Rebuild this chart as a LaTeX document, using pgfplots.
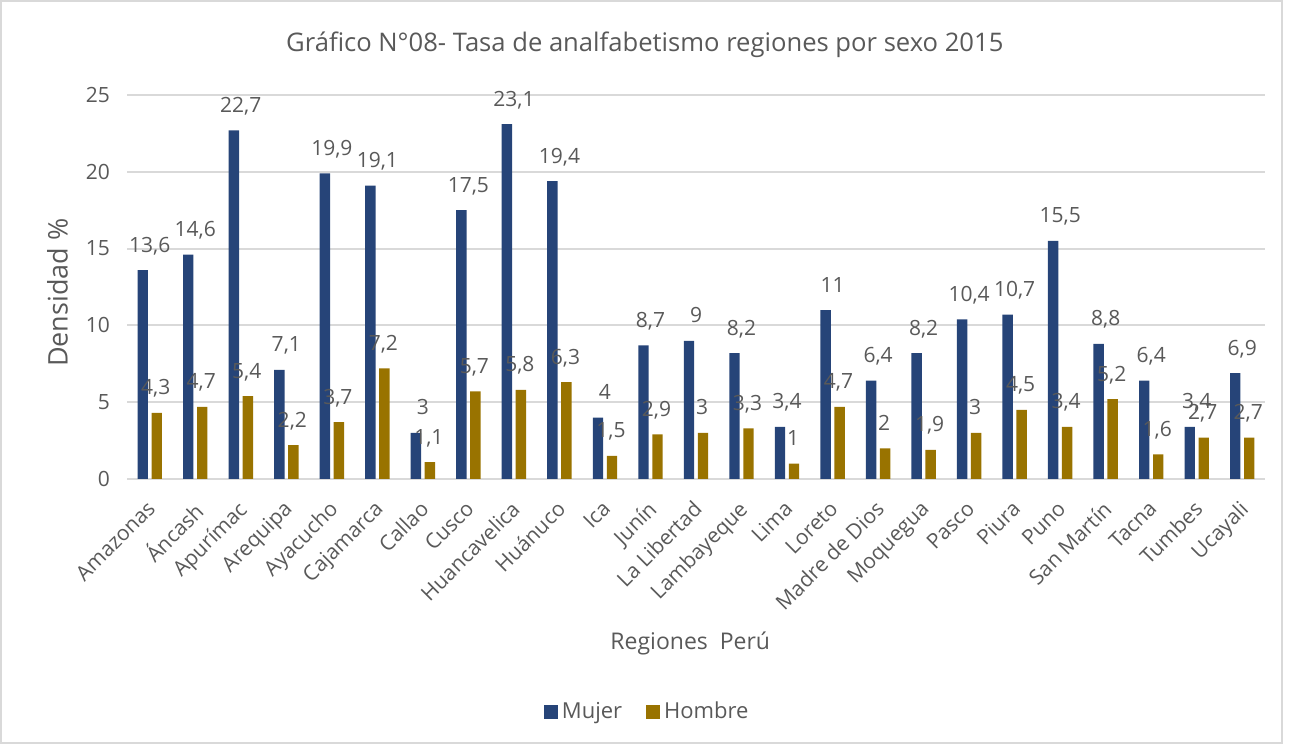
\documentclass[border=0pt]{standalone}
\usepackage{pgfplots}
\pgfplotsset{compat=1.18}
\usepackage{fontspec}
\setmainfont{Open Sans}
\definecolor{mujer}{HTML}{264478}
\definecolor{hombre}{HTML}{997300}
\definecolor{txt}{HTML}{595959}
\definecolor{gridc}{HTML}{D9D9D9}
\begin{document}
\begin{tikzpicture}
\useasboundingbox (0,0) rectangle (645pt,372pt);
\draw[gridc, line width=0.8pt] (0.5pt,0.5pt) rectangle (641pt,371.5pt);
\begin{axis}[
  at={(63.5pt,132.5pt)}, anchor=south west,
  scale only axis, width=569pt, height=192pt,
  xmin=-0.5, xmax=24.5, ymin=0, ymax=25,
  ytick={0,5,...,25},
  xtick={0,...,24},
  xticklabels={Amazonas,Áncash,Apurímac,Arequipa,Ayacucho,Cajamarca,Callao,Cusco,Huancavelica,Huánuco,Ica,Junín,La Libertad,Lambayeque,Lima,Loreto,Madre de Dios,Moquegua,Pasco,Piura,Puno,San Martín,Tacna,Tumbes,Ucayali},
  x tick label style={xshift=-2pt, yshift=-10pt, rotate=45, anchor=north east, inner sep=0pt, font=\fontsize{10.5}{12}\selectfont, text=txt},
  y tick label style={font=\fontsize{10.5}{12}\selectfont, text=txt, xshift=-5pt},
  /pgf/number format/assume math mode=true,
  /pgf/number format/use comma,
  axis x line*=bottom, axis y line*=left,
  axis line style={draw=none},
  major tick length=0pt,
  ymajorgrids, xmajorgrids=false, grid style={gridc, line width=1pt},
  title={Gráfico N°08- Tasa de analfabetismo regiones por sexo 2015},
  title style={at={(axis description cs:0.455,1.13)}, anchor=center, yshift=-6pt, font=\fontsize{12.8}{15}\selectfont, text=txt},
  xlabel={Regiones\ \ Perú},
  xlabel style={at={(axis description cs:0.495,-0.427)}, anchor=center, font=\fontsize{11.5}{13}\selectfont, text=txt},
  ylabel={Densidad \%},
  ylabel style={at={(axis description cs:-0.061,0.485)}, anchor=center, font=\fontsize{13.5}{15}\selectfont, text=txt},
  legend style={at={(axis description cs:0.458,-0.607)}, anchor=center, draw=none, fill=none, legend columns=2,
    font=\fontsize{11}{13}\selectfont, text=txt,
    /tikz/every even column/.append style={column sep=10pt}},
  legend image code/.code={\fill[#1] (0pt,-3.5pt) rectangle (7pt,3.5pt);},
  nodes near coords,
  every node near coord/.append style={font=\fontsize{10.5}{12}\selectfont, text=txt, anchor=base, inner sep=0pt, yshift=9pt},
]
\addplot[ybar, bar width=5.2pt, bar shift=-3.5pt, fill=mujer, draw=none] coordinates {
(0,13.6) (1,14.6) (2,22.7) (3,7.1) (4,19.9) (5,19.1) (6,3) (7,17.5) (8,23.1) (9,19.4)
(10,4) (11,8.7) (12,9) (13,8.2) (14,3.4) (15,11) (16,6.4) (17,8.2) (18,10.4) (19,10.7)
(20,15.5) (21,8.8) (22,6.4) (23,3.4) (24,6.9)};
\addlegendentry{Mujer}
\addplot[ybar, bar width=5.2pt, bar shift=3.5pt, fill=hombre, draw=none,
  every node near coord/.append style={xshift=3pt}] coordinates {
(0,4.3) (1,4.7) (2,5.4) (3,2.2) (4,3.7) (5,7.2) (6,1.1) (7,5.7) (8,5.8) (9,6.3)
(10,1.5) (11,2.9) (12,3) (13,3.3) (14,1) (15,4.7) (16,2) (17,1.9) (18,3) (19,4.5)
(20,3.4) (21,5.2) (22,1.6) (23,2.7) (24,2.7)};
\addlegendentry{Hombre}
\end{axis}
\end{tikzpicture}
\end{document}
